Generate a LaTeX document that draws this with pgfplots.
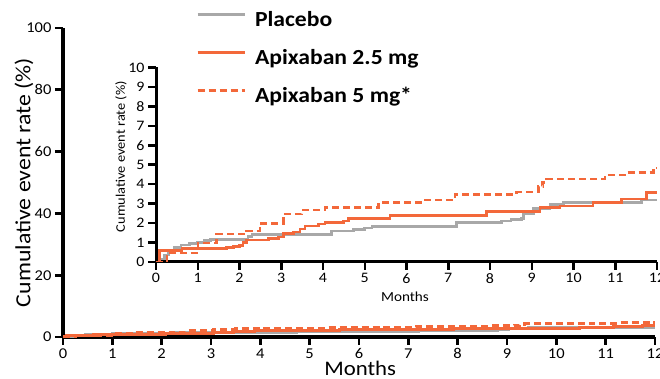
\documentclass[border=0pt]{standalone}
\usepackage{fontspec}
\setmainfont{Carlito}[FakeStretch=1.1]
\usepackage{pgfplots}
\usepackage{pgfplotstable}
\pgfplotsset{compat=1.18}
\definecolor{apiorange}{RGB}{243,104,58}
\definecolor{plgray}{RGB}{168,168,168}

\pgfplotstableread{
x y
0 0
0.1 0.15
0.2 0.35
0.3 0.55
0.45 0.75
0.6 0.88
0.8 0.95
1.0 1.0
1.15 1.1
1.3 1.17
2.2 1.3
2.3 1.42
4.21 1.59
4.73 1.67
5.0 1.74
5.17 1.81
7.2 2.04
8.28 2.1
8.5 2.17
8.76 2.24
8.8 2.5
9.04 2.76
9.44 2.97
9.76 3.07
11.63 3.19
12 3.19
}\placebo

\pgfplotstableread{
x y
0 0
0.08 0.6
0.62 0.69
1.69 0.75
1.85 0.8
2.0 0.86
2.08 1.0
2.17 1.14
2.69 1.2
2.93 1.29
3.05 1.47
3.29 1.55
3.45 1.7
3.57 1.85
3.89 1.95
4.05 2.04
4.49 2.1
4.61 2.24
5.6 2.38
7.92 2.59
9.2 2.81
9.68 2.88
10.47 3.05
11.15 3.24
11.75 3.57
12 3.57
}\apixlow

\pgfplotstableread{
x y
0 0
0.26 0.47
1.01 0.98
1.45 1.43
2.17 1.6
2.49 1.98
3.05 2.47
3.49 2.67
4.05 2.81
5.33 3.07
6.44 3.19
7.16 3.48
8.64 3.59
9.16 3.88
9.26 4.1
9.36 4.26
10.75 4.48
11.27 4.6
11.91 4.83
12 4.83
}\apixhigh

\begin{document}
\begin{tikzpicture}[x=1pt,y=1pt]
\useasboundingbox (0,0) rectangle (660,379);
% Main axis
\begin{axis}[
  at={(63pt,42pt)}, anchor=south west,
  scale only axis, width=592pt, height=309pt,
  xmin=0, xmax=12, ymin=0, ymax=100,
  axis x line*=bottom, axis y line*=left,
  xtick={0,1,...,12}, ytick={0,20,...,100},
  tick align=outside, major tick length=8pt,
  axis line style={line width=3.5pt, black},
  tick style={line width=2.8pt, black},
  ticklabel style={font=\fontsize{15}{15}\selectfont},
  /pgf/number format/assume math mode=true,
  xlabel={Months},
  ylabel={Cumulative event rate (\%)},
  xlabel style={at={(axis description cs:0.502,-0.100)}, anchor=center, font=\fontsize{20.7}{20.7}\selectfont},
  ylabel style={at={(axis description cs:-0.066,0.50)}, anchor=center, font=\fontsize{21.6}{21.6}\selectfont},
  legend style={at={(axis description cs:0.2247,1.0518)}, anchor=north west,
    draw=none, fill=none, inner sep=0pt, outer sep=0pt,
    font=\bfseries\fontsize{21.5}{21.5}\selectfont,
    row sep=18pt, column sep=9pt,
    nodes={inner sep=0pt, text height=15pt, text depth=5pt}},
  legend cell align=left,
  legend image code/.code={\draw[#1,line width=3pt] (0pt,7pt) -- (47pt,7pt);},
  clip=false,
]
\addplot[const plot, plgray, line width=3pt] table {\placebo};
\addlegendentry{Placebo}
\addplot[const plot, apiorange, line width=3pt] table {\apixlow};
\addlegendentry{Apixaban 2.5 mg}
\addplot[const plot, apiorange, line width=3pt, dash pattern=on 7pt off 4pt] table {\apixhigh};
\addlegendentry{Apixaban 5 mg*}
\end{axis}
% Inset axis
\begin{axis}[
  at={(156pt,117pt)}, anchor=south west,
  scale only axis, width=501pt, height=194.5pt,
  xmin=0, xmax=12, ymin=0, ymax=10,
  axis x line*=bottom, axis y line*=left,
  xtick={0,1,...,12}, ytick={0,1,...,10},
  tick align=outside, major tick length=8pt,
  axis line style={line width=3pt, black},
  tick style={line width=2.5pt, black},
  ticklabel style={font=\fontsize{14.5}{14.5}\selectfont},
  /pgf/number format/assume math mode=true,
  xlabel={Months},
  ylabel={Cumulative event rate (\%)},
  xlabel style={at={(axis description cs:0.497,-0.18)}, anchor=center, font=\fontsize{13.8}{13.8}\selectfont},
  ylabel style={at={(axis description cs:-0.070,0.542)}, anchor=center, font=\fontsize{13.1}{13.1}\selectfont},
]
\addplot[const plot, plgray, line width=2.6pt] table {\placebo};
\addplot[const plot, apiorange, line width=2.6pt] table {\apixlow};
\addplot[const plot, apiorange, line width=2.6pt, dash pattern=on 7pt off 4pt] table {\apixhigh};
\end{axis}
\end{tikzpicture}
\end{document}
